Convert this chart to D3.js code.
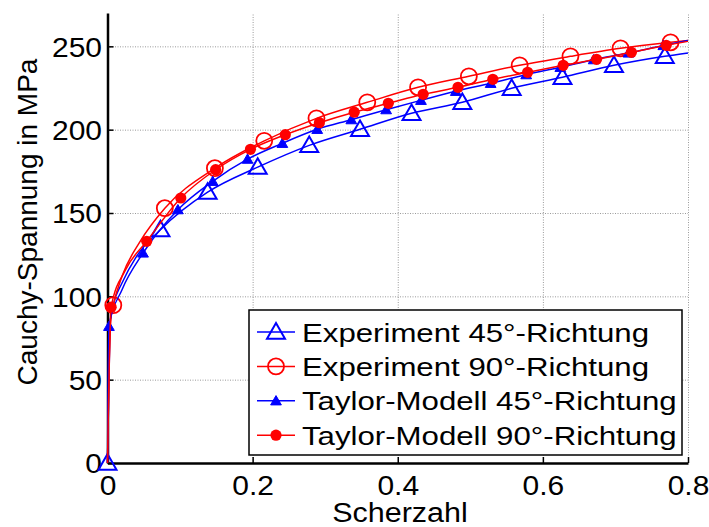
<!DOCTYPE html>
<html><head><meta charset="utf-8">
<script src="https://cdn.jsdelivr.net/npm/d3@7"></script>
<style>
html,body{margin:0;padding:0;background:#fff;}
svg{display:block;font-family:"Liberation Sans",Arial,Helvetica,sans-serif;}
</style></head>
<body>
<svg id="chart" width="709" height="527"></svg>
<script>
// ---------- data ----------
const xTicks = [0, 0.2, 0.4, 0.6, 0.8];
const xTickLabels = ["0", "0.2", "0.4", "0.6", "0.8"];
const yTicks = [0, 50, 100, 150, 200, 250];
const yTickLabels = ["0", "50", "100", "150", "200", "250"];

const seriesNames = ["Experiment 45°-Richtung", "Experiment 90°-Richtung",
                     "Taylor-Modell 45°-Richtung", "Taylor-Modell 90°-Richtung"];

// Experiment 45° (blue, open triangles)
const exp45Line = [[0,0],[0.002,50],[0.004,86],[0.008,95],[0.02,108],[0.04,124],[0.073,140],
  [0.138,162.5],[0.207,177.5],[0.278,190.6],[0.348,200.2],[0.419,209.8],[0.489,216.4],
  [0.557,224.8],[0.627,231.4],[0.698,238.6],[0.768,244],[0.8,246]];
const exp45Markers = [[0,0],[0.073,140],[0.138,162.5],[0.207,177.5],[0.278,190.6],[0.348,200.2],
  [0.419,209.8],[0.489,216.4],[0.557,224.8],[0.627,231.4],[0.698,238.6],[0.768,244]];

// Experiment 90° (red, open circles)
const exp90Line = [[0,0],[0.002,55],[0.005,88],[0.008,94.7],[0.02,112],[0.045,133],[0.079,152.9],
  [0.148,176.9],[0.216,193.3],[0.288,206.8],[0.358,216.4],[0.428,225.4],[0.498,232],
  [0.568,238.6],[0.638,244],[0.707,248.8],[0.776,252.4],[0.8,253.5]];
const exp90Markers = [[0.008,94.7],[0.079,152.9],[0.148,176.9],[0.216,193.3],[0.288,206.8],
  [0.358,216.4],[0.428,225.4],[0.498,232],[0.568,238.6],[0.638,244],[0.707,248.8],[0.776,252.4]];

// Taylor-Modell 45° (blue, filled triangles)
const tay45Line = [[0,0],[0.002,82],[0.02,104],[0.049,126],[0.097,152],[0.145,169],[0.193,182.3],
  [0.241,191.8],[0.289,200.2],[0.336,206],[0.384,212],[0.432,217.6],[0.480,223],[0.528,227.8],
  [0.577,233],[0.624,237.4],[0.670,242],[0.718,246],[0.766,250.5],[0.8,253.5]];
const tay45Markers = [[0.002,82],[0.049,126],[0.097,152],[0.145,169],[0.193,182.3],[0.241,191.8],
  [0.289,200.2],[0.336,206],[0.384,212],[0.432,217.6],[0.480,223],[0.528,227.8],[0.577,233],
  [0.624,237.4],[0.670,242],[0.718,246],[0.766,250.5]];

// Taylor-Modell 90° (red, filled circles)
const tay90Line = [[0,0],[0.005,93.5],[0.025,116],[0.054,133],[0.101,159],[0.149,176],[0.197,188.2],
  [0.245,197],[0.292,204.2],[0.340,210.5],[0.387,215.8],[0.435,221.2],[0.483,225.4],[0.531,230.2],
  [0.579,234.4],[0.628,238.6],[0.674,242.2],[0.722,246.4],[0.770,250.6],[0.8,253]];
const tay90Markers = [[0.005,93.5],[0.054,133],[0.101,159],[0.149,176],[0.197,188.2],[0.245,197],
  [0.292,204.2],[0.340,210.5],[0.387,215.8],[0.435,221.2],[0.483,225.4],[0.531,230.2],
  [0.579,234.4],[0.628,238.6],[0.674,242.2],[0.722,246.4],[0.770,250.6]];

// ---------- layout / style ----------
const svg = d3.select("#chart");
const L = 107.5, R = 688, T = 13, B = 463;
const x = d3.scaleLinear().domain([0, 0.8]).range([L, R]);
const y = d3.scaleLinear().domain([0, 270]).range([B, T]);
const BLUE = "#0000ff", RED = "#ff0000";

// grid
svg.append("g").attr("transform", `translate(0,${B})`)
  .call(d3.axisBottom(x).tickValues(xTicks).tickSize(-(B - T)).tickFormat(""))
  .call(g => g.select(".domain").remove())
  .selectAll("line").attr("stroke", "#9a9a9a").attr("stroke-dasharray", "1,1.5").attr("stroke-width", 1);
svg.append("g").attr("transform", `translate(${L},0)`)
  .call(d3.axisLeft(y).tickValues(yTicks.filter(v => v > 0)).tickSize(-(R - L)).tickFormat(""))
  .call(g => g.select(".domain").remove())
  .selectAll("line").attr("stroke", "#9a9a9a").attr("stroke-dasharray", "1,1.5").attr("stroke-width", 1);

// axes
const fs = 27, sxTick = 1.11;
const xAxis = svg.append("g").attr("transform", `translate(0,${B})`)
  .call(d3.axisBottom(x).tickValues(xTicks).tickSizeInner(-6).tickSizeOuter(0).tickPadding(0)
    .tickFormat((d, i) => xTickLabels[i]));
xAxis.select(".domain").attr("stroke", "#000").attr("stroke-width", 2.5);
xAxis.selectAll(".tick line").attr("stroke", "#000").attr("stroke-width", 1.5);
xAxis.selectAll(".tick text").attr("font-size", fs).attr("fill", "#000")
  .attr("font-family", '"Liberation Sans",Arial,sans-serif')
  .attr("y", 0).attr("dy", null).attr("transform", `translate(0,32) scale(${sxTick},1)`);

const yAxis = svg.append("g").attr("transform", `translate(${L},0)`)
  .call(d3.axisLeft(y).tickValues(yTicks).tickSizeInner(-6).tickSizeOuter(0).tickPadding(0)
    .tickFormat((d, i) => yTickLabels[i]));
yAxis.select(".domain").attr("stroke", "#000").attr("stroke-width", 2.5);
yAxis.selectAll(".tick line").attr("stroke", "#000").attr("stroke-width", 1.5);
yAxis.selectAll(".tick text").attr("font-size", fs).attr("fill", "#000")
  .attr("font-family", '"Liberation Sans",Arial,sans-serif')
  .attr("x", 0).attr("dy", null).attr("text-anchor", "end")
  .attr("transform", `translate(-5.5,9.7) scale(${sxTick},1)`);

// axis titles
svg.append("text").attr("transform", `translate(400,522) scale(1.13,1)`)
  .attr("text-anchor", "middle").attr("font-size", 27).text("Scherzahl");
svg.append("text").attr("transform", `translate(37,222) rotate(-90)`)
  .attr("text-anchor", "middle").attr("font-size", 28).text("Cauchy-Spannung in MPa");

// series
const line = d3.line().x(d => x(d[0])).y(d => y(d[1])).curve(d3.curveMonotoneX);
const triOpen = d3.symbol().type(d3.symbolTriangle).size(140);
const triFill = d3.symbol().type(d3.symbolTriangle).size(50);

function drawMarker(g, kind, color, px, py) {
  if (kind === "triOpen") {
    g.append("path").attr("d", triOpen()).attr("transform", `translate(${px},${py + 1.5})`)
      .attr("fill", "none").attr("stroke", color).attr("stroke-width", 2);
  } else if (kind === "circOpen") {
    g.append("circle").attr("cx", px).attr("cy", py).attr("r", 8)
      .attr("fill", "none").attr("stroke", color).attr("stroke-width", 1.8);
  } else if (kind === "triFill") {
    g.append("path").attr("d", triFill()).attr("transform", `translate(${px},${py + 1})`)
      .attr("fill", color).attr("stroke", color).attr("stroke-width", 1);
  } else {
    g.append("circle").attr("cx", px).attr("cy", py).attr("r", 5.6).attr("fill", color);
  }
}

const series = [
  {name: seriesNames[0], line: exp45Line, markers: exp45Markers, color: BLUE, kind: "triOpen"},
  {name: seriesNames[1], line: exp90Line, markers: exp90Markers, color: RED, kind: "circOpen"},
  {name: seriesNames[2], line: tay45Line, markers: tay45Markers, color: BLUE, kind: "triFill"},
  {name: seriesNames[3], line: tay90Line, markers: tay90Markers, color: RED, kind: "dotFill"}
];

series.forEach(s => {
  const g = svg.append("g");
  g.append("path").datum(s.line).attr("d", line).attr("fill", "none")
    .attr("stroke", s.color).attr("stroke-width", 1.5);
  s.markers.forEach(d => drawMarker(g, s.kind, s.color, x(d[0]), y(d[1])));
});

// legend
const lg = svg.append("g");
lg.append("rect").attr("x", 249).attr("y", 310).attr("width", 433).attr("height", 145)
  .attr("fill", "#fff").attr("stroke", "#000").attr("stroke-width", 1.5);
series.forEach((s, i) => {
  const cy = 332 + i * 34.4;
  lg.append("line").attr("x1", 257).attr("x2", 295).attr("y1", cy).attr("y2", cy)
    .attr("stroke", s.color).attr("stroke-width", 1.5);
  drawMarker(lg, s.kind, s.color, 276, cy);
  lg.append("text").attr("transform", `translate(302,${cy + 9.5}) scale(1.2,1)`)
    .attr("font-size", 26).attr("fill", "#000").text(s.name);
});
</script>
</body></html>
